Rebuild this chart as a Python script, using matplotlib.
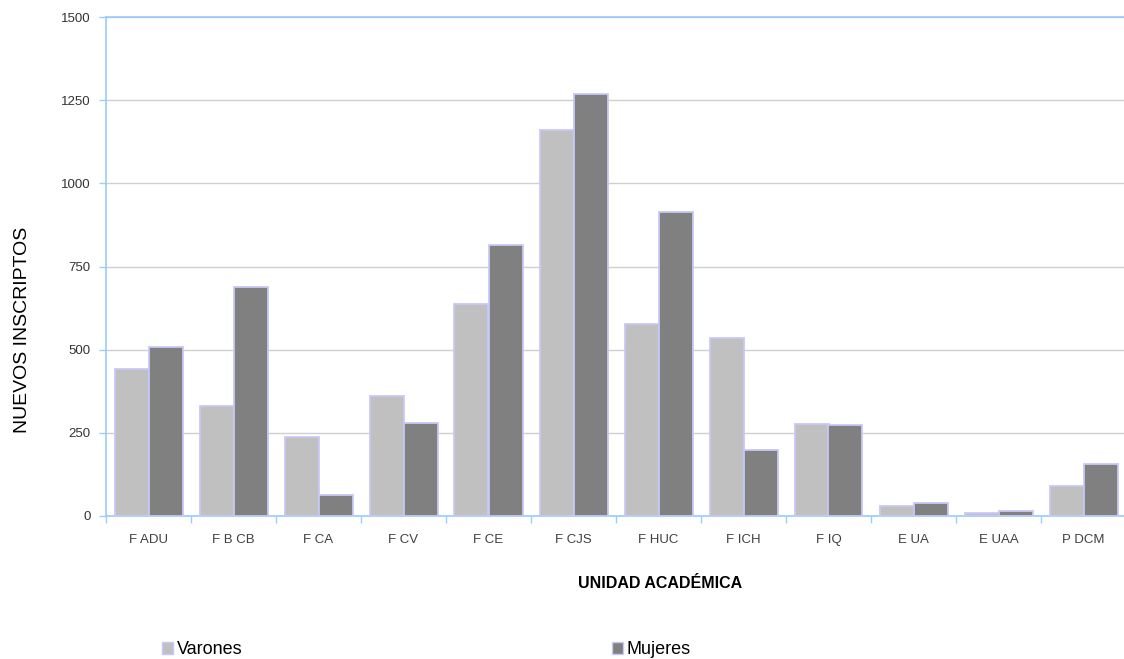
import numpy as np
import matplotlib
matplotlib.use("Agg")
import matplotlib.pyplot as plt
from matplotlib.patches import Patch

plt.rcParams["font.family"] = ["Liberation Sans", "DejaVu Sans"]

UNIDADES = ["F ADU", "F B CB", "F CA", "F CV", "F CE", "F CJS",
            "F HUC", "F ICH", "F IQ", "E UA", "E UAA", "P DCM"]
VARONES = [442, 331, 238, 361, 636, 1161, 578, 536, 276, 29, 9, 90]
MUJERES = [508, 689, 62, 280, 815, 1270, 914, 199, 274, 38, 15, 155]
Y_TICKS = [0, 250, 500, 750, 1000, 1250, 1500]

C_VAR = "#c0c0c0"
C_MUJ = "#808080"
EDGE = "#c8c8f8"
AXIS_BLUE = "#99ccff"

fig = plt.figure(figsize=(11.24, 6.59), dpi=100)
ax = fig.add_axes([106 / 1124, 143 / 659, 1020 / 1124, 499 / 659])

x = np.arange(len(UNIDADES))
w = 0.4
ax.bar(x - w / 2, VARONES, width=w, color=C_VAR, edgecolor=EDGE, linewidth=1.3, zorder=3)
ax.bar(x + w / 2, MUJERES, width=w, color=C_MUJ, edgecolor=EDGE, linewidth=1.3, zorder=3)

ax.set_xlim(-0.5, len(UNIDADES) - 0.5)
ax.set_ylim(0, 1500)
ax.set_yticks(Y_TICKS)
ax.set_yticklabels([str(t) for t in Y_TICKS], fontsize=9.5, color="#333333")
ax.yaxis.grid(True, color="#d0d0d0", linewidth=1.0, zorder=0)

# category labels centred, tick marks on boundaries
ax.set_xticks(x)
ax.set_xticklabels(UNIDADES, fontsize=9.5, color="#404040")
ax.tick_params(axis="x", length=0, pad=13)
ax.set_xticks(np.arange(-0.5, len(UNIDADES), 1), minor=True)
ax.tick_params(axis="x", which="minor", length=5, color=AXIS_BLUE, width=1)
ax.tick_params(axis="y", length=5, color=AXIS_BLUE, width=1, pad=6)

for side in ["left", "bottom", "top"]:
    ax.spines[side].set_color(AXIS_BLUE)
    ax.spines[side].set_linewidth(1.2)
ax.spines["right"].set_visible(False)

ax.set_xlabel("UNIDAD ACADÉMICA", fontsize=11.5, fontweight="bold", va="center")
ax.xaxis.set_label_coords(0.543, -0.136)
ax.set_ylabel("NUEVOS INSCRIPTOS", fontsize=14, va="center")
ax.yaxis.set_label_coords(-0.0814, 0.373)

fig.legend(handles=[Patch(facecolor=C_VAR, edgecolor=EDGE, label="Varones")],
           loc="center left", bbox_to_anchor=(146 / 1124, 1 - 650 / 659),
           frameon=False, fontsize=13, handlelength=0.6, handleheight=0.6, handletextpad=0.2)
fig.legend(handles=[Patch(facecolor=C_MUJ, edgecolor=EDGE, label="Mujeres")],
           loc="center left", bbox_to_anchor=(596 / 1124, 1 - 650 / 659),
           frameon=False, fontsize=13, handlelength=0.6, handleheight=0.6, handletextpad=0.2)

fig.savefig("out.png", dpi=100)
